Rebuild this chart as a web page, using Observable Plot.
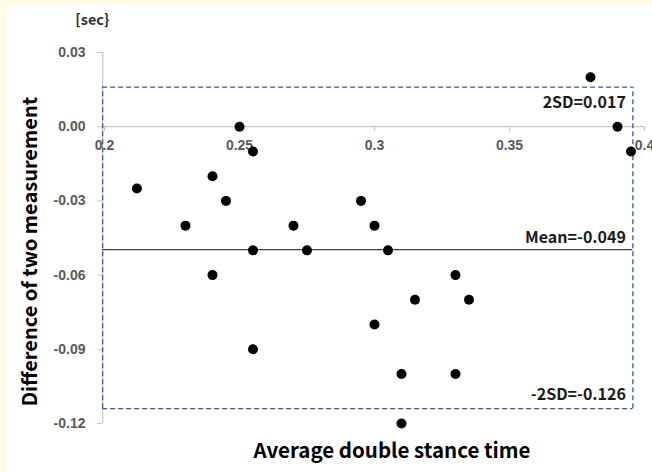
<!DOCTYPE html>
<html>
<head>
<meta charset="utf-8">
<script src="https://cdn.jsdelivr.net/npm/d3@7"></script>
<script src="https://cdn.jsdelivr.net/npm/@observablehq/plot@0.6"></script>
<style>
  html, body { margin: 0; padding: 0; width: 652px; height: 472px; overflow: hidden; background: #fffbe6; }
  #panel { position: absolute; left: 7px; top: 5px; right: 0; bottom: 0; background: #ffffff; }
  #chart { position: absolute; left: 0; top: 0; }
  #chart svg { background: transparent; }
</style>
</head>
<body>
<div id="panel"></div>
<div id="chart"></div>
<script>
// Average double stance time (x) vs difference of two measurements (y)
const avgTime = [0.25, 0.255, 0.24, 0.212, 0.245, 0.23, 0.27, 0.38, 0.39, 0.395, 0.295, 0.30,
                 0.255, 0.275, 0.24, 0.255, 0.305, 0.33, 0.315, 0.335, 0.30, 0.31, 0.33, 0.31];
const diff    = [0.00, -0.01, -0.02, -0.025, -0.03, -0.04, -0.04, 0.02, 0.00, -0.01, -0.03, -0.04,
                 -0.05, -0.05, -0.06, -0.09, -0.05, -0.06, -0.07, -0.07, -0.08, -0.10, -0.10, -0.12];
const points = avgTime.map((x, i) => ({x, y: diff[i]}));

const xTicks = [0.2, 0.25, 0.3, 0.35, 0.4];
const xTickLabels = ["0.2", "0.25", "0.3", "0.35", "0.4"];
const yTicks = [0.03, 0.00, -0.03, -0.06, -0.09, -0.12];

const meanValue = -0.0497;      // drawn mean line
const upperBox = 0.016;         // dashed box top (2SD)
const lowerBox = -0.114;        // dashed box bottom (-2SD)
const boxLeft = 0.1993, boxRight = 0.3957;
const labels = ["2SD=0.017", "Mean=-0.049", "-2SD=-0.126"];
const xTitle = "Average double stance time";
const yTitle = "Difference of two measurement";
const unit = "[sec}";

const tickFont = "'Liberation Sans', Arial, sans-serif";
const cjk = "'Noto Sans CJK JP', sans-serif";
const boxColor = "#3d5a93";

const chart = Plot.plot({
  width: 652,
  height: 472,
  marginLeft: 104,
  marginRight: 8,
  marginTop: 52,
  marginBottom: 49,
  style: {background: "transparent", overflow: "visible"},
  x: {domain: [0.2, 0.4], axis: null},
  y: {domain: [-0.12, 0.03], axis: null},
  marks: [
    // y axis line
    Plot.ruleX([0.1993], {y1: -0.12, y2: 0.03, stroke: "#c8c8c8", strokeWidth: 1.3}),
    // x axis line at y = 0
    Plot.ruleY([0], {x1: 0.1993, x2: 0.4, stroke: "#c8c8c8", strokeWidth: 1.3}),
    // x ticks
    Plot.ruleX(xTicks, {y1: 0, y2: 0, insetBottom: -5, stroke: "#c8c8c8", strokeWidth: 1.3}),
    // y ticks + labels
    Plot.axisY(yTicks, {
      ticks: yTicks, tickSize: 5, tickPadding: 12, stroke: "#c8c8c8", dx: -2,
      tickFormat: d => d.toFixed(2), fill: "#595959", fontSize: 14, fontWeight: "bold",
      fontFamily: tickFont, label: null
    }),
    // x tick labels at y=0
    Plot.text(xTicks, {x: d => d, y: () => 0, text: (d, i) => xTickLabels[i], dy: 19,
      fill: "#595959", fontSize: 14, fontWeight: "bold", fontFamily: tickFont}),
    // dashed limits box
    Plot.ruleY([upperBox, lowerBox], {x1: boxLeft, x2: boxRight, stroke: boxColor, strokeWidth: 1.3, strokeDasharray: "5,3"}),
    Plot.ruleX([boxLeft, boxRight], {y1: lowerBox, y2: upperBox, stroke: boxColor, strokeWidth: 1.3, strokeDasharray: "5,3"}),
    // mean line
    Plot.ruleY([meanValue], {x1: 0.1993, x2: boxRight, stroke: "#404040", strokeWidth: 1.2}),
    // annotations
    Plot.text([labels[0]], {x: () => boxRight, y: () => upperBox, text: d => d, textAnchor: "end", dx: -7, dy: 16,
      fontSize: 16, fontWeight: "bold", fontFamily: cjk, fill: "#1a1a1a"}),
    Plot.text([labels[1]], {x: () => boxRight, y: () => meanValue, text: d => d, textAnchor: "end", dx: -7, dy: -12,
      fontSize: 16, fontWeight: "bold", fontFamily: cjk, fill: "#1a1a1a"}),
    Plot.text([labels[2]], {x: () => boxRight, y: () => lowerBox, text: d => d, textAnchor: "end", dx: -7, dy: -14,
      fontSize: 16, fontWeight: "bold", fontFamily: cjk, fill: "#1a1a1a"}),
    // points
    Plot.dot(points, {x: "x", y: "y", r: 5, fill: "#000", stroke: "none"}),
    // axis titles
    Plot.text([yTitle], {x: () => 0.1726, y: () => -0.0505, rotate: -90, textAnchor: "middle",
      fontSize: 20, fontWeight: "bold", fontFamily: cjk, fill: "#000", style: "letter-spacing:0.5px"}),
    Plot.text([xTitle], {x: () => 0.3065, y: () => -0.1313, textAnchor: "middle",
      fontSize: 20.5, fontWeight: "bold", fontFamily: cjk, fill: "#000", style: "letter-spacing:0.6px"}),
    Plot.text([unit], {x: () => 0.1955, y: () => 0.0429, textAnchor: "middle",
      fontSize: 14.5, fontWeight: "bold", fontFamily: cjk, fill: "#333"})
  ]
});
document.getElementById("chart").appendChild(chart);
</script>
</body>
</html>
